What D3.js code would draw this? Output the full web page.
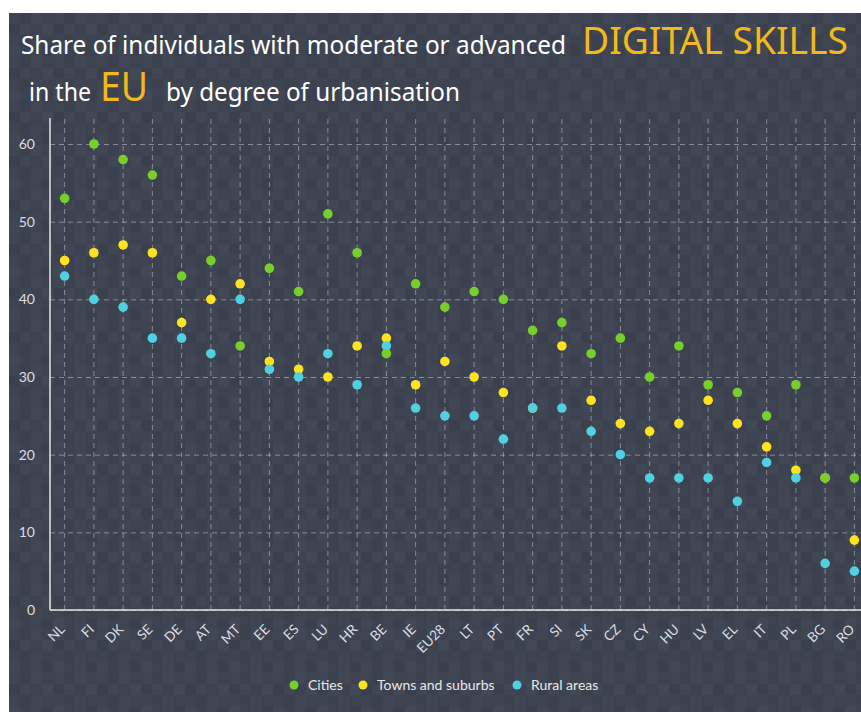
<!DOCTYPE html>
<html>
<head>
<meta charset="utf-8">
<script src="https://cdn.jsdelivr.net/npm/d3@7"></script>
<style>
  body { margin: 0; background: #fff; }
  svg { display: block; }
  .tick text { font-family: Lato, sans-serif; fill: #dcdde0; }
</style>
</head>
<body>
<script>
// chart data
var countries = ["NL","FI","DK","SE","DE","AT","MT","EE","ES","LU","HR","BE","IE","EU28",
                 "LT","PT","FR","SI","SK","CZ","CY","HU","LV","EL","IT","PL","BG","RO"];
var cities = [53,60,58,56,43,45,34,44,41,51,46,33,42,39,41,40,36,37,33,35,30,34,29,28,25,29,17,17];
var towns  = [45,46,47,46,37,40,42,32,31,30,34,35,29,32,30,28,26,34,27,24,23,24,27,24,21,18,17,9];
var rural  = [43,40,39,35,35,33,40,31,30,33,29,34,26,25,25,22,26,26,23,20,17,17,17,14,19,17,6,5];
var yTicks = [0,10,20,30,40,50,60];

var series = [
  {name: "Cities", values: cities, color: "#78cf2b"},
  {name: "Towns and suburbs", values: towns, color: "#fde21f"},
  {name: "Rural areas", values: rural, color: "#4fd1e1"}
];
// drawing order: towns, rural, cities on top
var drawOrder = [1, 2, 0];

// background tile shades
var shades = ["#3f4553","#3b414f","#414755","#3d4351","#3a404e","#404654","#3c4250","#424856",
              "#3e4452","#3b414e","#404553","#3d4351","#414755","#3c4250","#3f4553","#3a404d"];

var W = 861, H = 712;
var margin = {top: 118, left: 50, bottom: 102};
var plotBottom = H - margin.bottom; // 610

var svg = d3.select("body").append("svg")
    .attr("width", W)
    .attr("height", H);

// tiled background
var cell = 11;
var pat = svg.append("defs").append("pattern")
    .attr("id", "tiles")
    .attr("patternUnits", "userSpaceOnUse")
    .attr("x", 9).attr("y", 13)
    .attr("width", cell * 4).attr("height", cell * 4);
shades.forEach(function(c, i) {
  pat.append("rect")
    .attr("x", (i % 4) * cell)
    .attr("y", Math.floor(i / 4) * cell)
    .attr("width", cell).attr("height", cell)
    .attr("fill", c);
});
svg.append("rect").attr("x", 9).attr("y", 13)
    .attr("width", W - 9).attr("height", H - 13)
    .attr("fill", "url(#tiles)");

// title
var t1 = svg.append("text")
    .attr("x", 21).attr("y", 54)
    .attr("font-family", "'Noto Sans', sans-serif")
    .attr("fill", "#ffffff");
t1.append("tspan").attr("font-size", 25)
    .attr("textLength", 545).attr("lengthAdjust", "spacingAndGlyphs")
    .text("Share of individuals with moderate or advanced");
t1.append("tspan").attr("x", 582).attr("font-size", 39).attr("fill", "#f2b91d")
    .attr("textLength", 266).attr("lengthAdjust", "spacingAndGlyphs")
    .text("DIGITAL SKILLS");

var t2 = svg.append("text")
    .attr("y", 101)
    .attr("font-family", "'Noto Sans', sans-serif")
    .attr("fill", "#ffffff");
t2.append("tspan").attr("x", 29).attr("font-size", 25)
    .attr("textLength", 62).attr("lengthAdjust", "spacingAndGlyphs")
    .text("in the");
t2.append("tspan").attr("x", 100).attr("font-size", 40).attr("fill", "#f2b91d")
    .attr("textLength", 48).attr("lengthAdjust", "spacingAndGlyphs")
    .text("EU");
t2.append("tspan").attr("x", 166).attr("font-size", 25)
    .attr("textLength", 294).attr("lengthAdjust", "spacingAndGlyphs")
    .text("by degree of urbanisation");

// scales
var x = d3.scaleBand()
    .domain(countries)
    .range([margin.left, margin.left + countries.length * 29.25])
    .padding(0);
var y = d3.scaleLinear()
    .domain([0, 60])
    .range([plotBottom, 144]);

var cx = function(c) { return x(c) + x.bandwidth() / 2; };

// horizontal grid
svg.append("g")
    .attr("transform", "translate(" + margin.left + ",0)")
    .call(d3.axisLeft(y).tickValues(yTicks).tickSize(-(W - margin.left)).tickFormat(""))
    .call(function(g) { g.select(".domain").remove(); })
    .selectAll("line")
    .attr("stroke", "rgba(255,255,255,0.38)")
    .attr("stroke-dasharray", "5,4");

// vertical grid
svg.append("g")
    .attr("transform", "translate(0," + plotBottom + ")")
    .call(d3.axisBottom(x).tickSize(-(plotBottom - margin.top)).tickFormat(""))
    .call(function(g) { g.select(".domain").remove(); })
    .selectAll("line")
    .attr("stroke", "rgba(255,255,255,0.38)")
    .attr("stroke-dasharray", "5,4");

// y axis labels
svg.append("g")
    .attr("transform", "translate(" + margin.left + ",0)")
    .call(d3.axisLeft(y).tickValues(yTicks).tickSize(0).tickPadding(15))
    .call(function(g) { g.select(".domain").remove(); })
    .selectAll("text")
    .attr("font-size", 14);

// x axis labels
svg.append("g")
    .attr("transform", "translate(0," + plotBottom + ")")
    .call(d3.axisBottom(x).tickSize(0))
    .call(function(g) { g.select(".domain").remove(); })
    .selectAll("text")
    .attr("font-size", 13.5)
    .attr("text-anchor", "end")
    .attr("dy", 0)
    .attr("transform", "translate(-1,18) rotate(-45)");

// axis lines
svg.append("line")
    .attr("x1", margin.left).attr("x2", margin.left)
    .attr("y1", margin.top).attr("y2", plotBottom)
    .attr("stroke", "#e6e6e6").attr("stroke-width", 1.5);
svg.append("line")
    .attr("x1", margin.left).attr("x2", W)
    .attr("y1", plotBottom).attr("y2", plotBottom)
    .attr("stroke", "#e6e6e6").attr("stroke-width", 1.5);

// dots
drawOrder.forEach(function(i) {
  var s = series[i];
  svg.append("g").selectAll("circle")
      .data(countries)
    .enter().append("circle")
      .attr("cx", function(c) { return cx(c); })
      .attr("cy", function(c, j) { return y(s.values[j]); })
      .attr("r", 4.8)
      .attr("fill", s.color);
});

// legend
var legendX = [294, 363, 517];
var legend = svg.append("g").selectAll("g")
    .data(series)
  .enter().append("g")
    .attr("transform", function(d, i) { return "translate(" + legendX[i] + ",685)"; });
legend.append("circle").attr("r", 4.5).attr("fill", function(d) { return d.color; });
legend.append("text")
    .attr("x", 14).attr("dy", "0.35em")
    .attr("font-family", "Lato, sans-serif")
    .attr("font-size", 14)
    .attr("fill", "#e8e9eb")
    .text(function(d) { return d.name; });
</script>
</body>
</html>
